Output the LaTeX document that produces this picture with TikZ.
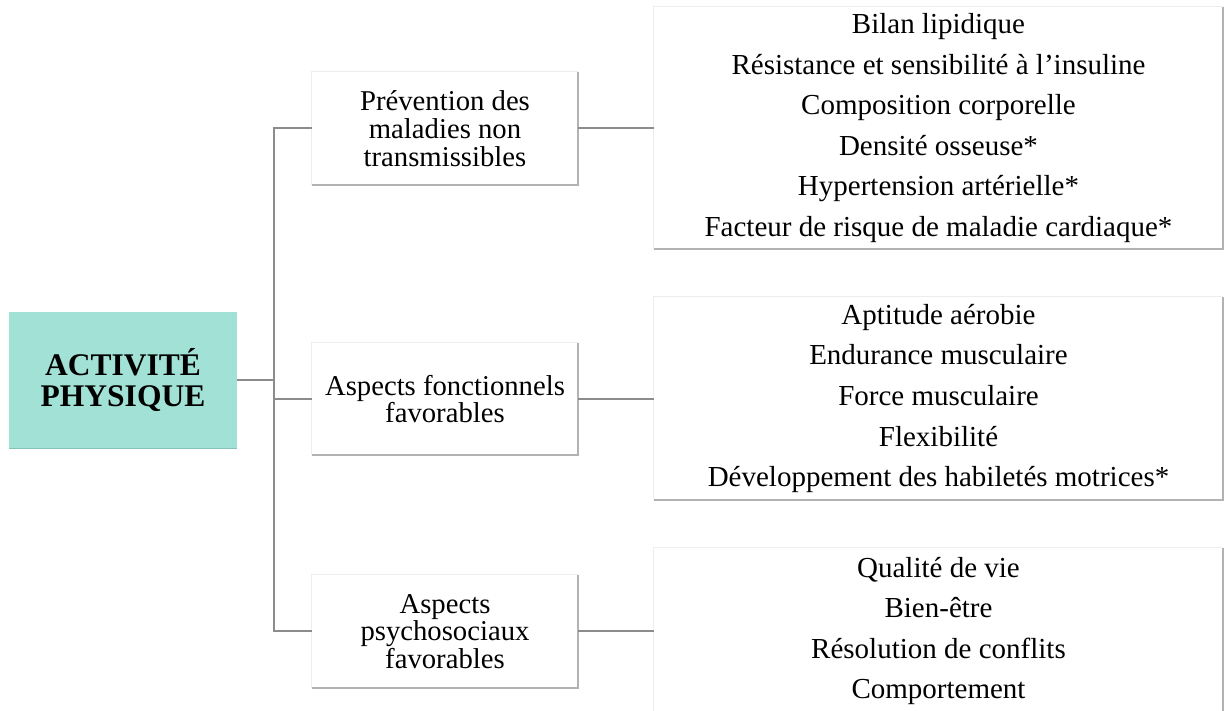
\documentclass[tikz,border=0pt]{standalone}
\usepackage{fontspec}
\setmainfont{Liberation Serif}
\definecolor{tealfill}{HTML}{A2E2D6}
\definecolor{tealedge}{HTML}{86C2B7}
\definecolor{connc}{HTML}{8C8C8C}
\definecolor{edgeD}{HTML}{B2B2B2}
\definecolor{edgeL}{HTML}{EDEDED}
\begin{document}
\begin{tikzpicture}[x=1pt,y=1pt,
  box/.style={draw=none,inner sep=0pt,align=center,text=black},
  mid/.style={box,minimum width=266pt,font=\fontsize{28.7}{27.8}\selectfont},
  lst/.style={box,minimum width=569pt,font=\fontsize{29}{40.6}\selectfont},
  conn/.style={draw=connc,line width=2pt},
  edgelight/.style={draw=edgeL,line width=1.2pt},
  edgedark/.style={draw=edgeD,line width=1.6pt}]
\clip (0,0) rectangle (1225,711);
\fill[white] (0,0) rectangle (1225,711);
% root
\node[box,fill=tealfill,minimum width=228pt,minimum height=136pt,
      font=\fontsize{31.5}{31}\selectfont\bfseries] (L) at (123,331) {ACTIVITÉ\\PHYSIQUE};
\draw[draw=tealedge,line width=1.2pt] (L.south west) -- (L.south east);
% middle boxes
\node[mid,minimum height=113pt] (M1) at (445,582.5) {Prévention des\\maladies non\\transmissibles};
\node[mid,minimum height=112pt] (M2) at (445,312) {Aspects fonctionnels\\favorables};
\node[mid,minimum height=113pt] (M3) at (445,79.5) {Aspects\\psychosociaux\\favorables};
% right boxes
\node[lst,minimum height=242pt] (R1) at (938.5,583) {Bilan lipidique\\Résistance et sensibilité à l’insuline\\Composition corporelle\\Densité osseuse*\\Hypertension artérielle*\\Facteur de risque de maladie cardiaque*};
\node[lst,minimum height=203pt] (R2) at (938.5,312.5) {Aptitude aérobie\\Endurance musculaire\\Force musculaire\\Flexibilité\\Développement des habiletés motrices*};
\node[lst,minimum height=166pt] (R3) at (938.5,80) {Qualité de vie\\Bien-être\\Résolution de conflits\\Comportement};
% box edges
\foreach \n in {M1,M2,M3,R1,R2,R3}{
  \draw[edgelight] (\n.south west) -- (\n.north west) -- (\n.north east);
  \draw[edgedark] (\n.north east) -- (\n.south east) -- (\n.south west);
}
% connectors
\coordinate (T0) at (274,331);
\coordinate (T1) at (274,582.5);
\coordinate (T2) at (274,312);
\coordinate (T3) at (274,79.5);
\draw[conn] (L.east) -- (T0);
\draw[conn] (M1.west) -- (T1) -- (T3) -- (M3.west);
\draw[conn] (T2) -- (M2.west);
\draw[conn] (M1.east) -- (M1.east -| R1.west);
\draw[conn] (M2.east) -- (M2.east -| R2.west);
\draw[conn] (M3.east) -- (M3.east -| R3.west);
\end{tikzpicture}
\end{document}
